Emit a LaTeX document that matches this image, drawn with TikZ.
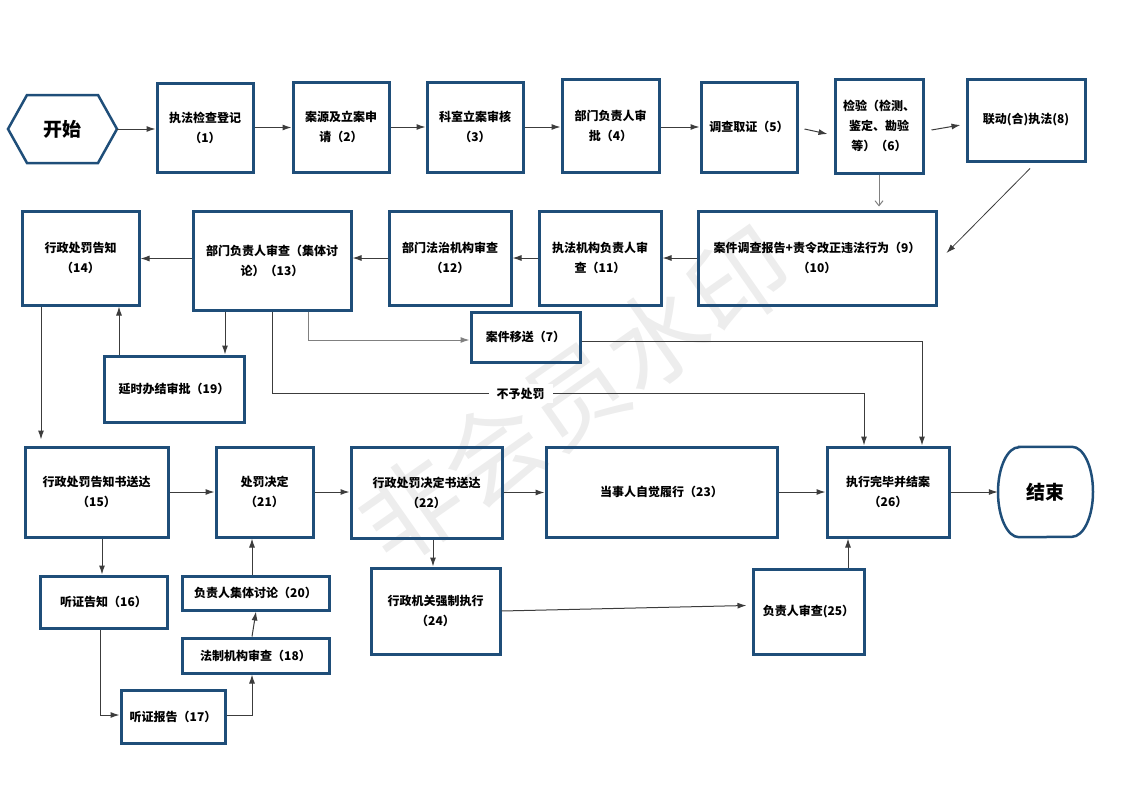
\documentclass[tikz,border=0pt]{standalone}
\usepackage{fontspec}
\setmainfont{Noto Sans CJK SC}
\usepackage{tikz}
\usetikzlibrary{calc,arrows.meta}
\definecolor{boxblue}{RGB}{31,78,121}
\definecolor{linegray}{RGB}{60,60,60}

\begin{document}
\begin{tikzpicture}[x=1pt,y=-1pt,
    box/.style={draw=boxblue,line width=3pt,inner sep=0pt,align=center,
        font=\fontsize{12}{20}\selectfont\bfseries},
    arr/.style={-{Latex[length=9pt,width=6pt]},line width=1pt,draw=linegray},
    grayarr/.style={arr,draw=gray}]
    \useasboundingbox (0,0) rectangle (1122,793);

    % Watermark
    \node[rotate=35,text=gray!14,font=\fontsize{100}{100}\selectfont] (mark) at (575,395) {非会员水印};

    % Start
    \draw[boxblue,line width=2.5pt] (8,129) -- (27,95) -- (98,95) -- (117,129) -- (98,163) -- (27,163) -- cycle;
    \node[minimum width=109pt,minimum height=68pt,inner sep=0pt,font=\fontsize{19}{22}\selectfont\bfseries] (start) at (62,129) {开始};

    % First row
    \node[box,minimum width=96pt,minimum height=89pt] (n1) at (205,127.5) {执法检查登记\\（1）};
    \node[box,minimum width=96pt,minimum height=90pt] (n2) at (341,127) {案源及立案申\\请（2）};
    \node[box,minimum width=96pt,minimum height=90pt] (n3) at (475,127) {科室立案审核\\（3）};
    \node[box,minimum width=97pt,minimum height=93pt] (n4) at (610.5,125.5) {部门负责人审\\批（4）};
    \node[box,minimum width=96pt,minimum height=90pt] (n5) at (749,127) {调查取证（5）};
    \node[box,minimum width=88pt,minimum height=94pt] (n6) at (879,126) {检验（检测、\\鉴定、勘验\\等）（6）};
    \node[box,minimum width=118pt,minimum height=82pt] (n8) at (1026,120) {联动(合)执法(8)};

    % Second row
    \node[box,minimum width=238pt,minimum height=94pt] (n9) at (817,258) {案件调查报告+责令改正违法行为（9）\\（10）};
    \node[box,minimum width=122pt,minimum height=94pt] (n11) at (600,258) {执法机构负责人审\\查（11）};
    \node[box,minimum width=122pt,minimum height=94pt] (n12) at (450,258) {部门法治机构审查\\（12）};
    \node[box,minimum width=158pt,minimum height=99pt] (n13) at (272,260.5) {部门负责人审查（集体讨\\论）（13）};
    \node[box,minimum width=117pt,minimum height=94pt] (n14) at (80.5,258) {行政处罚告知\\（14）};
    \node[box,minimum width=109pt,minimum height=50pt] (n7) at (525.5,337) {案件移送（7）};
    \node[box,minimum width=140pt,minimum height=66pt] (n19) at (174,389) {延时办结审批（19）};

    % Third row
    \node[box,minimum width=143pt,minimum height=90pt] (n15) at (96.5,492) {行政处罚告知书送达\\（15）};
    \node[box,minimum width=97pt,minimum height=90pt] (n21) at (264.5,492) {处罚决定\\（21）};
    \node[box,minimum width=151pt,minimum height=91pt] (n22) at (426.5,492.5) {行政处罚决定书送达\\（22）};
    \node[box,minimum width=231pt,minimum height=90pt] (n23) at (661.5,492) {当事人自觉履行（23）};
    \node[box,minimum width=122pt,minimum height=90pt] (n26) at (888,492) {执行完毕并结案\\（26）};

    % End
    \node[minimum width=95pt,minimum height=90pt,inner sep=0pt,
        font=\fontsize{19}{22}\selectfont\bfseries] (end) at (1045.5,492) {结束};
    \draw[boxblue,line width=2.5pt] ([xshift=-26.5pt]end.north) -- ([xshift=26.5pt]end.north)
        arc[start angle=90,end angle=-90,x radius=21pt,y radius=45pt]
        -- ([xshift=-26.5pt]end.south)
        arc[start angle=-90,end angle=-270,x radius=21pt,y radius=45pt] -- cycle;

    % Bottom rows
    \node[box,minimum width=127pt,minimum height=52pt] (n16) at (103.5,602) {听证告知（16）};
    \node[box,minimum width=147pt,minimum height=34pt] (n20) at (255.5,593) {负责人集体讨论（20）};
    \node[box,minimum width=147pt,minimum height=35pt] (n18) at (255.5,655.5) {法制机构审查（18）};
    \node[box,minimum width=104pt,minimum height=53pt] (n17) at (173,716.5) {听证报告（17）};
    \node[box,minimum width=129pt,minimum height=86pt] (n24) at (435.5,611) {行政机关强制执行\\（24）};
    \node[box,minimum width=111pt,minimum height=85pt] (n25) at (808.5,611.5) {负责人审查(25）};

    % Connectors, first row
    \draw[arr] (start.east) -- (start.east -| n1.west);
    \draw[arr] (n1.east) -- (n1.east -| n2.west);
    \draw[arr] (n2.east) -- (n2.east -| n3.west);
    \draw[arr] (n3.east) -- (n3.east -| n4.west);
    \draw[arr] ([yshift=-1.5pt]n4.east) -- ([yshift=-1.5pt]n4.east -| n5.west);
    \draw[arr] ($(n5.east)+(6,2)$) -- ($(n6.west)+(-6,8)$);
    \draw[arr] ($(n6.east)+(7,4)$) -- ($(n8.west)+(-5,5)$);
    \draw[-{Straight Barb[length=5pt,width=8pt]},line width=1pt,gray] (n6.south) -- ([yshift=3pt]n6.south |- n9.north);
    \draw[arr,line width=0.8pt] ($(n8.south)+(4,6)$) -- ($(n9.east)+(9,-5)$);

    % Connectors, second row
    \draw[arr] (n9.west) -- (n9.west -| n11.east);
    \draw[arr] (n11.west) -- (n11.west -| n12.east);
    \draw[arr] (n12.west) -- (n12.west -| n13.east);
    \draw[arr] ([yshift=2pt]n13.west) -- ([yshift=2pt]n13.west -| n14.east);
    \draw[arr] ([xshift=-47pt]n13.south) -- ([xshift=-47pt]n13.south |- n19.north);
    \draw[arr] ([xshift=38.5pt]n14.south |- n19.north) -- ([xshift=38.5pt]n14.south);
    \draw[grayarr] ([xshift=36pt]n13.south) |- ([yshift=-3pt]n7.west);
    \draw[arr] (n13.south) -- ++(0,82) -| node[pos=0.21,fill=white,inner xsep=8pt,
        font=\fontsize{12}{14}\selectfont\bfseries,text=black] {不予处罚} ([xshift=-24pt]n26.north);
    \draw[arr] ([yshift=-4pt]n7.east) -| ([xshift=34pt]n26.north);

    % Connectors, third row
    \draw[arr,shorten >=6pt] ([xshift=-39.5pt]n14.south) -- ([xshift=-39.5pt]n14.south |- n15.north);
    \draw[arr] (n15.east) -- (n15.east -| n21.west);
    \draw[arr] (n21.east) -- (n21.east -| n22.west);
    \draw[arr] (n22.east) -- (n22.east -| n23.west);
    \draw[arr] (n23.east) -- (n23.east -| n26.west);
    \draw[arr] (n26.east) -- (n26.east -| end.west);

    % Connectors, bottom
    \draw[arr] ([xshift=5.5pt]n15.south) -- ([xshift=5.5pt]n15.south |- n16.north);
    \draw[arr] ([xshift=-3.5pt]n16.south) |- ([yshift=1.5pt]n17.west);
    \draw[arr] ([yshift=1.5pt]n17.east) -| ([xshift=-3.5pt]n18.south);
    \draw[arr] ([xshift=-3.5pt]n18.north) -- ([xshift=0.5pt]n20.south);
    \draw[arr] ([xshift=-3.5pt]n20.north) -- ([xshift=-3.5pt]n20.north |- n21.south);
    \draw[arr] ([xshift=6.5pt]n22.south) -- ([xshift=6.5pt]n22.south |- n24.north);
    \draw[arr] (n24.east) -- ($(n25.west)+(-5,-6)$);
    \draw[arr] ([xshift=39.5pt]n25.north) -- ([xshift=39.5pt]n25.north |- n26.south);
\end{tikzpicture}
\end{document}
